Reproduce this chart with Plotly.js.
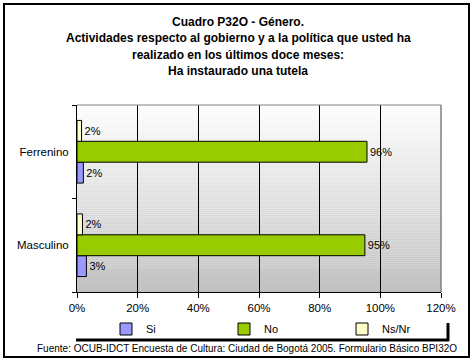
<!DOCTYPE html>
<html>
<head>
<meta charset="utf-8">
<script src="https://cdn.plot.ly/plotly-3.0.1.min.js"></script>
<style>html,body{margin:0;padding:0;background:#fff;}#chart{width:476px;height:364px;}</style>
</head>
<body>
<div id="chart"></div>
<script>
// ---- data ----
const categories = ['Masculino', 'Ferrenino'];
const seriesNames = ['Si', 'No', 'Ns/Nr'];
const siValues   = [3.1, 2.1];
const noValues   = [94.9, 95.6];
const nsnrValues = [1.8, 1.5];
const xTickVals  = [0, 20, 40, 60, 80, 100, 120];
const xTickText  = ['0%', '20%', '40%', '60%', '80%', '100%', '120%'];
const titleLines = ['Cuadro P32O - Género.',
  'Actividades respecto al gobierno y a la política que usted ha',
  'realizado en los últimos doce meses:',
  'Ha instaurado una tutela'];
const sourceText = 'Fuente: OCUB-IDCT Encuesta de Cultura: Ciudad de Bogotá 2005. Formulario Básico BPI32O';

const colors = ['#9999ff', '#99cc00', '#ffffcc'];
const FONT = 'Liberation Sans, Arial, sans-serif';

// plot area geometry (pixels)
const W = 476, H = 364, L = 77, T = 105, R = 441, B = 292;
const px = x => (x - L) / (R - L);
const py = y => (B - y) / (B - T);

const allValues = [siValues, noValues, nsnrValues];
const traces = seriesNames.map((name, i) => ({
  type: 'bar', orientation: 'h', name: name,
  y: categories, x: allValues[i],
  marker: {color: colors[i], line: {color: '#000', width: 1}},
  text: allValues[i].map(v => Math.round(v) + '%'),
  textposition: 'outside', cliponaxis: false,
  textfont: {family: FONT, size: 11, color: '#000'},
  hoverinfo: 'skip'
}));

// gradient background strips
const shapes = [];
const N = 94;
for (let k = 0; k < N; k++) {
  const f = (k + 0.5) / N; // 0 bottom -> 1 top
  const c = Math.round(192 + (254 - 192) * f);
  shapes.push({type: 'rect', xref: 'x domain', yref: 'y domain', x0: 0, x1: 1,
    y0: k / N, y1: (k + 1) / N, fillcolor: `rgb(${c},${c},${c})`,
    line: {width: 0}, layer: 'below'});
}
// grey top and right plot border
shapes.push({type: 'line', xref: 'paper', yref: 'paper', x0: 0, x1: 1, y0: 1, y1: 1,
  line: {color: '#808080', width: 1}});
shapes.push({type: 'line', xref: 'paper', yref: 'paper', x0: 1, x1: 1, y0: 0, y1: 1,
  line: {color: '#808080', width: 1.5}});
// legend shadow
shapes.push({type: 'line', xref: 'paper', yref: 'paper', x0: px(76), x1: px(449), y0: py(340), y1: py(340),
  line: {color: '#000', width: 3}});
shapes.push({type: 'line', xref: 'paper', yref: 'paper', x0: px(448), x1: px(448), y0: py(323), y1: py(341),
  line: {color: '#000', width: 3}});
// outer frame
shapes.push({type: 'rect', xref: 'paper', yref: 'paper', x0: px(4), x1: px(469), y0: py(4), y1: py(357),
  line: {color: '#000', width: 2}, fillcolor: 'rgba(0,0,0,0)'});

const annotations = titleLines.map((t, i) => ({
  text: '<b>' + t + '</b>', xref: 'paper', yref: 'paper', x: px(238), y: py(22 + i * 16.3),
  xanchor: 'center', yanchor: 'middle', showarrow: false,
  font: {family: FONT, size: 12, color: '#000'}
}));
annotations.push({text: sourceText, xref: 'paper', yref: 'paper', x: px(247), y: py(348),
  xanchor: 'center', yanchor: 'middle', showarrow: false,
  font: {family: FONT, size: 10, color: '#000'}});

const layout = {
  width: W, height: H,
  margin: {l: L, r: W - R, t: T, b: H - B, pad: 0},
  paper_bgcolor: '#fff', plot_bgcolor: 'rgba(0,0,0,0)',
  barmode: 'group', bargap: 0.33, bargroupgap: 0,
  showlegend: true,
  legend: {orientation: 'h', x: px(106), y: py(329), xanchor: 'left', yanchor: 'middle',
    entrywidth: 73, entrywidthmode: 'pixels', traceorder: 'normal',
    font: {family: FONT, size: 11, color: '#000'}, bgcolor: 'rgba(0,0,0,0)'},
  xaxis: {range: [0, 120], tickvals: xTickVals, ticktext: xTickText,
    showgrid: true, gridcolor: '#000', gridwidth: 1, zeroline: false,
    showline: true, linecolor: '#000', linewidth: 1,
    ticks: 'outside', ticklen: 5, tickcolor: '#000',
    tickfont: {family: FONT, size: 11.5, color: '#000'}, fixedrange: true},
  yaxis: {type: 'category', categoryorder: 'array', categoryarray: categories,
    showline: true, linecolor: '#000', linewidth: 1,
    ticks: 'outside', ticklen: 4, tickcolor: '#000', tickson: 'boundaries',
    ticklabelstandoff: 5,
    showgrid: false, zeroline: false,
    tickfont: {family: FONT, size: 11.5, color: '#000'}, fixedrange: true},
  shapes: shapes, annotations: annotations
};

Plotly.newPlot('chart', traces, layout, {displayModeBar: false, staticPlot: true});
</script>
</body>
</html>
